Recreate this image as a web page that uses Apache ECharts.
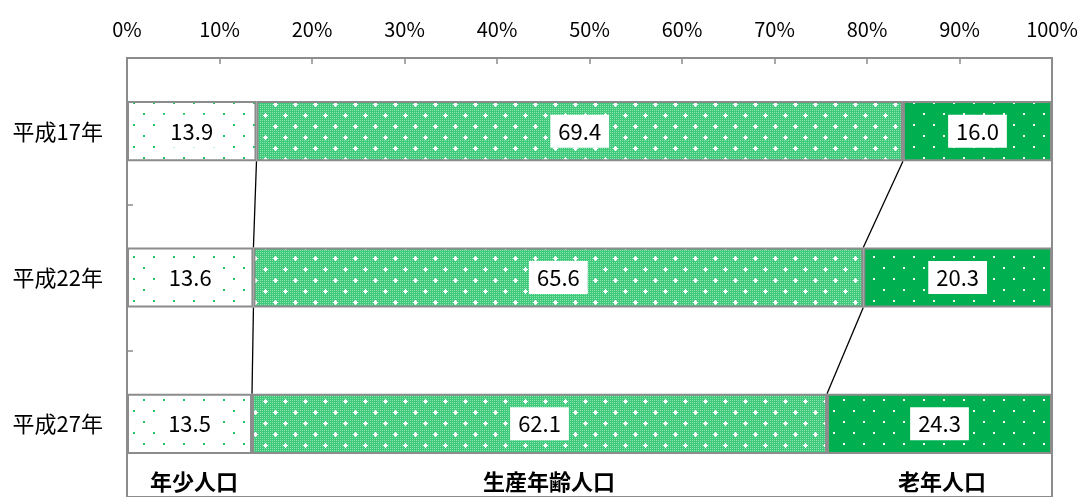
<!DOCTYPE html>
<html>
<head>
<meta charset="utf-8">
<script src="https://cdn.jsdelivr.net/npm/echarts@6/dist/echarts.min.js"></script>
<style>
html,body{margin:0;padding:0;background:#fff;}
#chart{width:1083px;height:497px;}
</style>
</head>
<body>
<div id="chart"></div>
<script>
const categories = ['平成17年', '平成22年', '平成27年'];
const seriesNames = ['年少人口', '生産年齢人口', '老年人口'];
const youth = [13.9, 13.6, 13.5];
const working = [69.4, 65.6, 62.1];
const elderly = [16.0, 20.3, 24.3];

const raw = [youth, working, elderly];
const totals = categories.map((_, i) => youth[i] + working[i] + elderly[i]);
const pct = raw.map(arr => arr.map((v, i) => v / totals[i] * 100));

const FONT = "'Noto Sans CJK JP', 'Noto Sans', sans-serif";
const GRAY = '#8c8c8c';
const BAR_RATIO = 61 / 148.5;

function tile(bg, draw) {
  const c = document.createElement('canvas');
  c.width = 20; c.height = 22;
  const g = c.getContext('2d');
  g.imageSmoothingEnabled = false;
  g.fillStyle = bg; g.fillRect(0, 0, 20, 22);
  draw(g);
  return c;
}
const patYouth = tile('#ffffff', g => {
  g.fillStyle = '#1fc463';
  g.fillRect(3, 3, 2, 2);
  g.fillRect(13, 14, 2, 2);
});
const patWork = tile('#3fc97b', g => {
  g.fillStyle = '#8ae3b0';
  for (let y = 0; y < 22; y += 2) for (let x = 0; x < 20; x += 2) g.fillRect(x, y, 1, 1);
  g.fillStyle = '#ffffff';
  const plus = (cx, cy) => { g.fillRect(cx - 2, cy, 5, 1); g.fillRect(cx, cy - 2, 1, 5); g.fillRect(cx - 1, cy - 1, 3, 3); };
  plus(5, 5); plus(15, 16);
});
const patOld = tile('#00b050', g => {
  g.fillStyle = '#f0fbf4';
  g.fillRect(3, 3, 2, 2);
  g.fillRect(13, 14, 2, 2);
});
const patterns = [patYouth, patWork, patOld];

// series line data: cumulative boundaries between successive categories
const cum1 = pct[0];
const cum2 = pct[0].map((v, i) => v + pct[1][i]);
const lineData = [];
for (let i = 0; i < categories.length - 1; i++) {
  lineData.push([cum1[i], cum1[i + 1], cum2[i], cum2[i + 1], i]);
}

const chart = echarts.init(document.getElementById('chart'), null, {renderer: 'canvas'});

const barSeries = seriesNames.map((name, s) => ({
  name: name,
  type: 'bar',
  stack: 'total',
  barWidth: (BAR_RATIO * 100) + '%',
  data: pct[s],
  itemStyle: {
    color: {image: patterns[s], repeat: 'repeat'},
    borderColor: GRAY,
    borderWidth: 2
  },
  label: {
    show: true,
    position: 'inside',
    formatter: p => raw[s][p.dataIndex].toFixed(1),
    color: '#000',
    fontFamily: FONT,
    fontSize: 22,
    backgroundColor: '#fff',
    padding: [6, 8, 5, 8]
  },
  z: 3
}));

const option = {
  animation: false,
  backgroundColor: '#fff',
  grid: {
    left: 127, right: 31, top: 58, height: 446,
    show: true, borderColor: GRAY, borderWidth: 2, backgroundColor: 'transparent'
  },
  xAxis: {
    type: 'value',
    position: 'top',
    min: 0, max: 100, interval: 10,
    axisLine: {show: true, lineStyle: {color: GRAY, width: 2}},
    axisTick: {show: true, inside: true, length: 6, lineStyle: {color: GRAY, width: 1.5}},
    splitLine: {show: false},
    axisLabel: {formatter: '{value}%', color: '#000', fontFamily: FONT, fontSize: 20, margin: 19}
  },
  yAxis: {
    type: 'category',
    inverse: true,
    data: categories,
    axisLine: {show: true, lineStyle: {color: GRAY, width: 2}},
    axisTick: {show: true, inside: true, length: 6, lineStyle: {color: GRAY, width: 1.5}},
    axisLabel: {color: '#000', fontFamily: FONT, fontSize: 22, margin: 24}
  },
  series: barSeries.concat([{
    type: 'custom',
    data: lineData,
    encode: {x: [0, 1, 2, 3], y: 4},
    z: 2,
    silent: true,
    renderItem: (params, api) => {
      const i = api.value(4);
      const half = api.size([0, 1])[1] * BAR_RATIO / 2;
      const children = [];
      [[0, 1], [2, 3]].forEach(([a, b]) => {
        const p1 = api.coord([api.value(a), i]);
        const p2 = api.coord([api.value(b), i + 1]);
        children.push({
          type: 'line',
          shape: {x1: p1[0], y1: p1[1] + half, x2: p2[0], y2: p2[1] - half},
          style: {stroke: '#000', lineWidth: 1.3}
        });
      });
      return {type: 'group', children: children};
    }
  }]),
  graphic: [
    {type: 'text', left: 150, top: 471, style: {text: seriesNames[0], font: "bold 22px " + FONT, fill: '#000'}},
    {type: 'text', left: 483, top: 471, style: {text: seriesNames[1], font: "bold 22px " + FONT, fill: '#000'}},
    {type: 'text', left: 898, top: 471, style: {text: seriesNames[2], font: "bold 22px " + FONT, fill: '#000'}}
  ]
};
chart.setOption(option);
</script>
</body>
</html>
